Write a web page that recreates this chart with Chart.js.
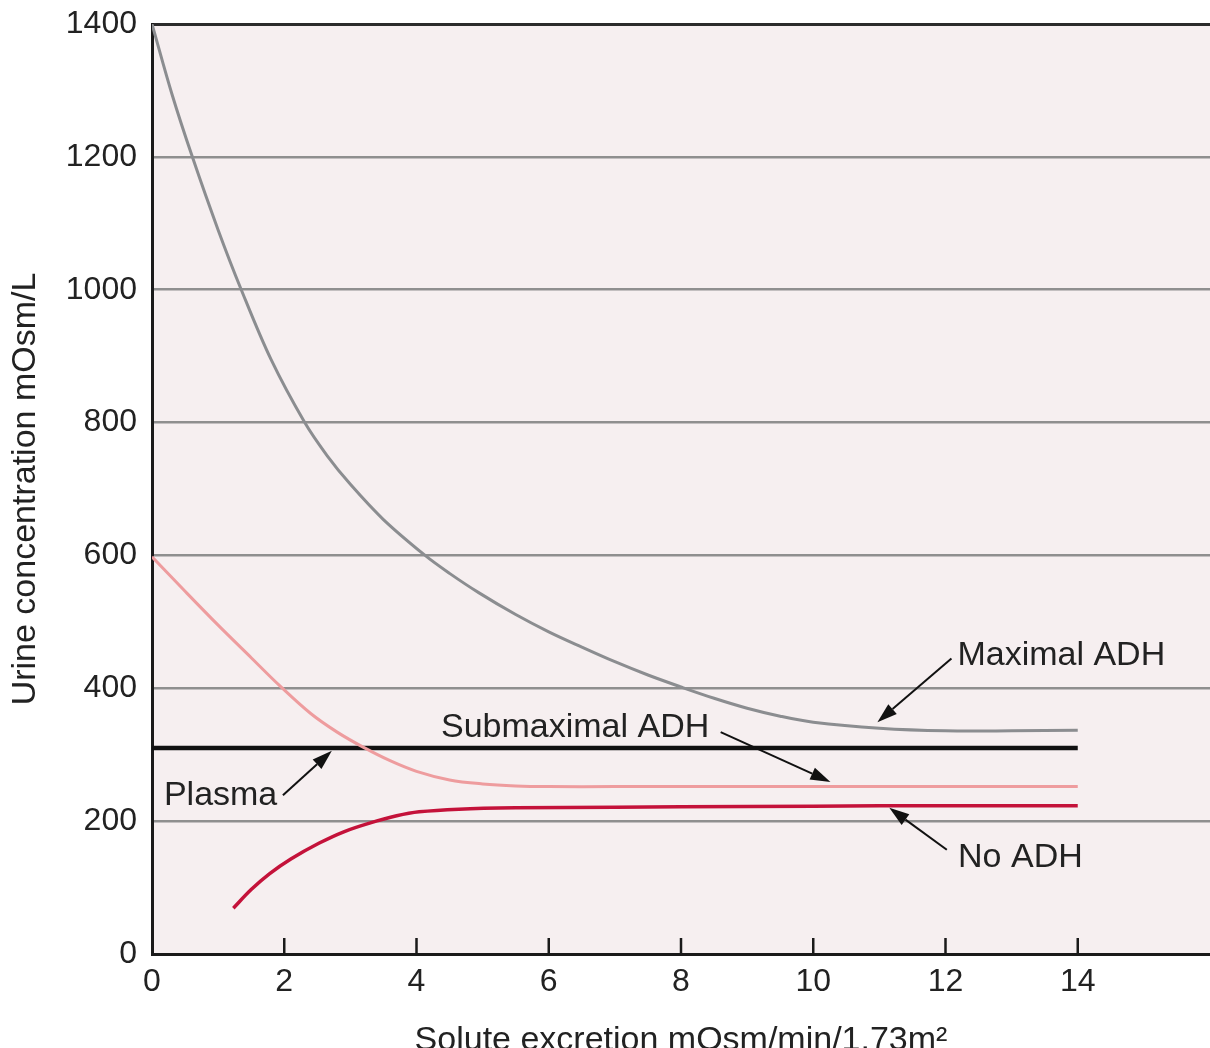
<!DOCTYPE html>
<html>
<head>
<meta charset="utf-8">
<script src="https://cdn.jsdelivr.net/npm/chart.js@4.4.1/dist/chart.umd.min.js"></script>
<style>
  html, body { margin: 0; padding: 0; background: #fff; overflow: hidden; }
  canvas { display: block; }
</style>
</head>
<body>
<canvas id="chart" width="1210" height="1048"></canvas>
<script>
// values (x: solute excretion, y: urine mOsm/L)
var maxAdhX = [0, 0.3, 0.61, 1, 1.35, 1.8, 2.31, 2.65, 3, 3.5, 4.13, 4.5, 4.94, 5.5, 6, 6.5, 7, 7.5, 8, 8.5, 9, 9.5, 10, 11, 12, 13, 14];
var maxAdhY = [1400, 1295, 1200, 1090, 1000, 895, 800, 750, 707, 654, 600, 573, 544, 511, 485, 462, 440, 420, 402, 385, 370, 358, 349, 340, 336, 336, 337];

var subAdhX = [0, 0.5, 1, 1.5, 1.93, 2.4, 2.8, 3.2, 3.6, 4, 4.5, 5, 5.5, 6, 7, 8, 10, 12, 14];
var subAdhY = [598, 546, 495, 446, 404, 362, 334, 311, 291, 275, 262, 256, 253, 252, 252, 252, 252, 252, 252];

var noAdhX = [1.23, 1.5, 1.78, 2.1, 2.53, 2.9, 3.29, 3.7, 4.04, 4.64, 5.5, 7, 9, 11, 14];
var noAdhY = [69, 97, 121, 143, 167, 184, 197, 208, 214, 218, 220, 221, 222, 223, 223];

var plasmaX = [0, 14];
var plasmaY = [310, 310];

var xTickLabels = [0, 2, 4, 6, 8, 10, 12, 14];
var yTickLabels = [0, 200, 400, 600, 800, 1000, 1200, 1400];

// label text, anchor and arrow (from -> to), in data units
var notes = [
  { text: 'Maximal ADH', x: 12.18, y: 435, from: [12.09, 445], to: [10.97, 349] },
  { text: 'Submaximal ADH', x: 4.37, y: 327, from: [8.6, 334], to: [10.26, 259] },
  { text: 'Plasma', x: 0.18, y: 224, from: [1.98, 239], to: [2.72, 306] },
  { text: 'No ADH', x: 12.19, y: 131, from: [12.02, 157], to: [11.15, 220] }
];

var FONT = '"Liberation Sans", Arial, Helvetica, sans-serif';

function toPoints(xs, ys) {
  return xs.map(function (x, i) { return { x: x, y: ys[i] }; });
}

function drawArrow(ctx, x0, y0, x1, y1) {
  var ang = Math.atan2(y1 - y0, x1 - x0);
  var len = 20, half = 6.5;
  var bx = x1 - len * Math.cos(ang), by = y1 - len * Math.sin(ang);
  ctx.beginPath();
  ctx.moveTo(x0, y0);
  ctx.lineTo(bx, by);
  ctx.stroke();
  ctx.beginPath();
  ctx.moveTo(x1, y1);
  ctx.lineTo(bx + half * Math.sin(ang), by - half * Math.cos(ang));
  ctx.lineTo(bx - half * Math.sin(ang), by + half * Math.cos(ang));
  ctx.closePath();
  ctx.fill();
}

var decor = {
  id: 'decor',
  beforeDraw: function (chart) {
    var a = chart.chartArea, ctx = chart.ctx;
    ctx.save();
    ctx.fillStyle = '#f6eff0';
    ctx.fillRect(a.left, a.top, a.right - a.left, a.bottom - a.top);
    ctx.restore();
  },
  afterDraw: function (chart) {
    var xs = chart.scales.x, ys = chart.scales.y, ctx = chart.ctx, a = chart.chartArea;
    ctx.save();
    // tick marks point up into the plot
    ctx.strokeStyle = '#1a1a1a';
    ctx.lineWidth = 2.5;
    xs.ticks.forEach(function (t) {
      if (t.value <= 0) return;
      var px = xs.getPixelForValue(t.value);
      ctx.beginPath();
      ctx.moveTo(px, a.bottom);
      ctx.lineTo(px, a.bottom - 16);
      ctx.stroke();
    });
    ctx.font = '34px ' + FONT;
    ctx.textAlign = 'left';
    ctx.textBaseline = 'alphabetic';
    ctx.lineWidth = 2;
    notes.forEach(function (n) {
      ctx.fillStyle = '#222';
      ctx.fillText(n.text, xs.getPixelForValue(n.x), ys.getPixelForValue(n.y));
      ctx.fillStyle = '#111';
      ctx.strokeStyle = '#111';
      drawArrow(ctx,
        xs.getPixelForValue(n.from[0]), ys.getPixelForValue(n.from[1]),
        xs.getPixelForValue(n.to[0]), ys.getPixelForValue(n.to[1]));
    });
    ctx.restore();
  }
};

new Chart(document.getElementById('chart'), {
  type: 'line',
  data: {
    datasets: [
      {
        label: 'Maximal ADH',
        data: toPoints(maxAdhX, maxAdhY),
        borderColor: '#8b8d90',
        borderWidth: 3,
        pointRadius: 0,
        tension: 0.35
      },
      {
        label: 'Submaximal ADH',
        data: toPoints(subAdhX, subAdhY),
        borderColor: '#ee9c9e',
        borderWidth: 3,
        pointRadius: 0,
        tension: 0.35
      },
      {
        label: 'No ADH',
        data: toPoints(noAdhX, noAdhY),
        borderColor: '#c4123a',
        borderWidth: 3.5,
        pointRadius: 0,
        tension: 0.35
      },
      {
        label: 'Plasma',
        data: toPoints(plasmaX, plasmaY),
        borderColor: '#111111',
        borderWidth: 4.5,
        pointRadius: 0
      }
    ]
  },
  options: {
    responsive: false,
    animation: false,
    devicePixelRatio: 1,
    layout: { padding: { top: 24, right: 0, bottom: 0, left: 0 } },
    plugins: {
      legend: { display: false },
      tooltip: { enabled: false }
    },
    scales: {
      x: {
        type: 'linear',
        min: 0,
        max: 16,
        afterBuildTicks: function (scale) {
          scale.ticks = xTickLabels.map(function (v) { return { value: v }; });
        },
        afterFit: function (scale) { scale.height = 94; },
        grid: { display: false, drawTicks: false },
        border: { display: true, color: '#1a1a1a', width: 3 },
        ticks: {
          color: '#222',
          font: { family: FONT, size: 32 },
          padding: 9,
          maxRotation: 0,
          callback: function (v) { return String(v); }
        },
        title: {
          display: true,
          text: 'Solute excretion mOsm/min/1.73m²',
          color: '#222',
          font: { family: FONT, size: 34, lineHeight: 0.45 },
          padding: 0
        }
      },
      y: {
        min: 0,
        max: 1400,
        afterBuildTicks: function (scale) {
          scale.ticks = yTickLabels.map(function (v) { return { value: v }; });
        },
        afterFit: function (scale) { scale.width = 152; },
        grid: {
          drawTicks: true,
          tickLength: 15,
          tickColor: 'rgba(0,0,0,0)',
          color: function (c) {
            if (c.tick.value === 1400) return '#2b2b2b';
            if (c.tick.value === 0) return 'rgba(0,0,0,0)';
            return '#8f8f8f';
          },
          lineWidth: function (c) { return c.tick.value === 1400 ? 3 : 2.5; }
        },
        border: { display: true, color: '#1a1a1a', width: 3 },
        ticks: {
          color: '#222',
          font: { family: FONT, size: 32 },
          padding: 0,
          callback: function (v) { return String(v); }
        },
        title: {
          display: true,
          text: 'Urine concentration mOsm/L',
          color: '#222',
          font: { family: FONT, size: 34, lineHeight: 1 },
          padding: { top: 9, bottom: 0 }
        }
      }
    }
  },
  plugins: [decor]
});
</script>
</body>
</html>
